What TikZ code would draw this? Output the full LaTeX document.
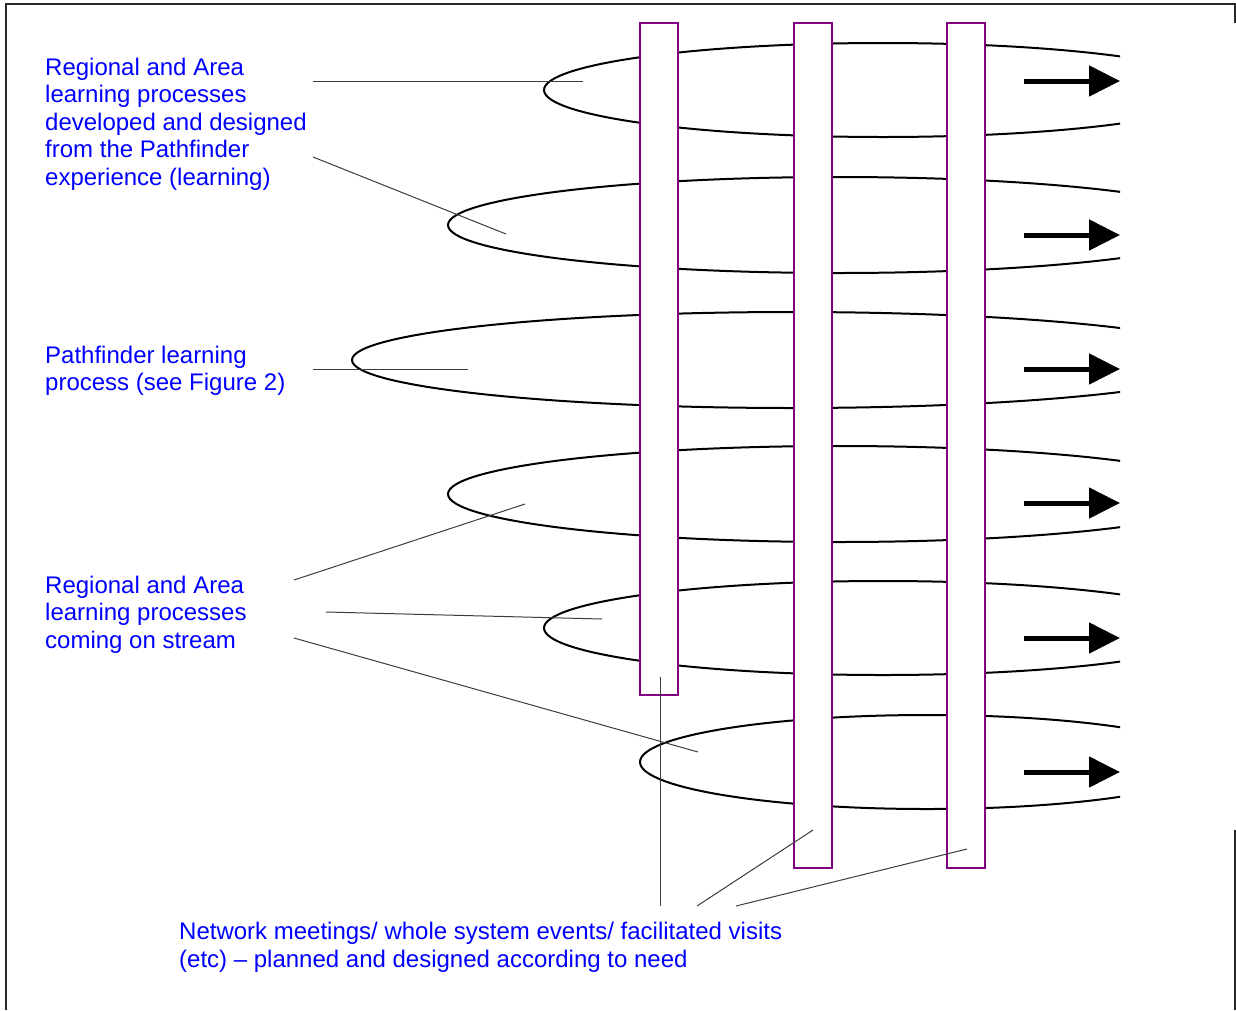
\documentclass[tikz,border=0pt]{standalone}
\usepackage{fontspec}
\setmainfont{Liberation Sans}
\usetikzlibrary{arrows.meta}
\definecolor{barpurple}{RGB}{128,0,128}
\definecolor{txtblue}{RGB}{0,0,255}
\definecolor{frame}{RGB}{40,40,40}
\definecolor{callgray}{RGB}{60,60,60}
\tikzset{
  lbl/.style={anchor=base west, inner sep=0pt, text=txtblue, font=\fontsize{24}{27.6}\selectfont},
  barbox/.style={draw=barpurple, fill=white, line width=2pt, minimum width=38pt, inner sep=0pt},
  loop/.style={draw=black, line width=2pt},
  callout/.style={draw=callgray, line width=1pt},
  flow/.style={line width=5pt, -{Triangle[length=31pt,width=30pt]}},
  border/.style={draw=frame, line width=2pt}
}
\begin{document}
\begin{tikzpicture}[x=1pt,y=-1pt]
\useasboundingbox (0,0) rectangle (1236,1010);
% frame
\draw[border] (6,1010) -- (6,4) -- (1235,4) -- (1235,23);
\draw[border] (1235,830) -- (1235,1010);
% loops
\begin{scope}
\clip (0,0) rectangle (1120,1010);
\draw[loop] (883,90) ellipse [x radius=339pt, y radius=47pt];
\draw[loop] (838,225) ellipse [x radius=390pt, y radius=48pt];
\draw[loop] (792,360) ellipse [x radius=440pt, y radius=48pt];
\draw[loop] (838,494) ellipse [x radius=390pt, y radius=48pt];
\draw[loop] (883,628) ellipse [x radius=339pt, y radius=47pt];
\draw[loop] (927,762) ellipse [x radius=287pt, y radius=47pt];
\end{scope}
% bars
\node[barbox, minimum height=672pt] (b1) at (659,359) {};
\node[barbox, minimum height=845pt] (b2) at (813,445.5) {};
\node[barbox, minimum height=845pt] (b3) at (966,445.5) {};
% arrows
\foreach \i/\yy in {1/81,2/235,3/369,4/503,5/638,6/772}{
  \coordinate (as\i) at (1024,\yy);
  \coordinate (ae\i) at (1120,\yy);
  \draw[flow] (as\i) -- (ae\i);
}
% labels
\node[lbl] (t1a) at (45,75) {Regional and Area};
\node[lbl] (t1b) at (45,102.6) {learning processes};
\node[lbl] (t1c) at (45,130.2) {developed and designed};
\node[lbl] (t1d) at (45,157.8) {from the Pathfinder};
\node[lbl] (t1e) at (45,185.4) {experience (learning)};
\node[lbl] (t2a) at (45,363) {Pathfinder learning};
\node[lbl] (t2b) at (45,390.6) {process (see Figure 2)};
\node[lbl] (t3a) at (45,593) {Regional and Area};
\node[lbl] (t3b) at (45,620.6) {learning processes};
\node[lbl] (t3c) at (45,648.2) {coming on stream};
\node[lbl] (t4a) at (179,939) {Network meetings/ whole system events/ facilitated visits};
\node[lbl] (t4b) at (179,967) {(etc) -- planned and designed according to need};
% callout ends
\coordinate (c1s) at (313,81);  \coordinate (c1e) at (583,81);
\coordinate (c2s) at (313,157); \coordinate (c2e) at (506,234);
\coordinate (c3s) at (313,369); \coordinate (c3e) at (468,369);
\coordinate (c4s) at (294,580); \coordinate (c4e) at (525,504);
\coordinate (c5s) at (326,612); \coordinate (c5e) at (602,619);
\coordinate (c6s) at (294,638); \coordinate (c6e) at (698,752);
\coordinate (c7s) at (660,906); \coordinate (c7e) at (660,677);
\coordinate (c8s) at (697,906); \coordinate (c8e) at (813,830);
\coordinate (c9s) at (736,906); \coordinate (c9e) at (967,849);
\foreach \k in {1,...,9}{\draw[callout] (c\k s) -- (c\k e);}
\end{tikzpicture}
\end{document}
